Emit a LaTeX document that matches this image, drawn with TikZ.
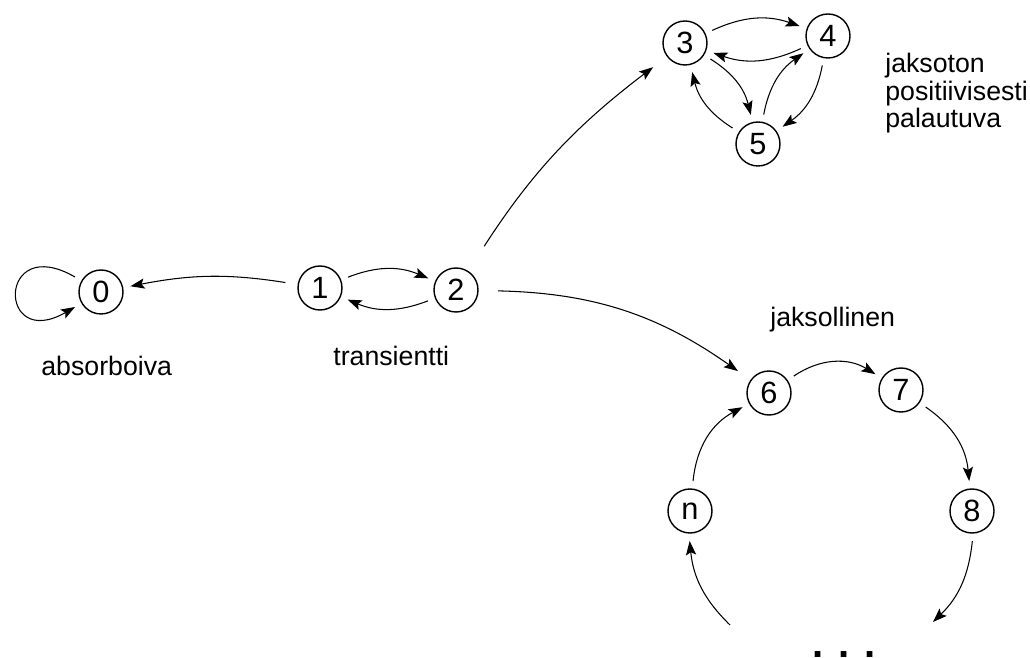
\documentclass[tikz,border=0pt]{standalone}
\usepackage{fontspec}
\setmainfont{Liberation Sans}
\usetikzlibrary{arrows.meta}

\tikzset{
    state/.style={circle, draw, line width=0.8pt, minimum size=0.88cm, inner sep=0pt, outer sep=0.16cm, font=\fontsize{17.5}{20}\selectfont},
    arr/.style={-{Stealth[length=8pt,width=5.8pt,inset=1.6pt]}, line width=0.6pt},
    lbl/.style={anchor=base west, inner sep=0pt, font=\fontsize{15.2}{15.7}\selectfont}
}

\begin{document}
\begin{tikzpicture}
    \useasboundingbox (0,0) rectangle (20.6,13.16);

    \node[state] (n0) at (2.02,7.32) {0};
    \node[state] (n1) at (6.40,7.40) {1};
    \node[state] (n2) at (9.12,7.36) {2};
    \node[state] (n3) at (13.70,12.30) {3};
    \node[state] (n4) at (16.56,12.44) {4};
    \node[state] (n5) at (15.16,10.28) {5};
    \node[state] (n6) at (15.38,5.30) {6};
    \node[state] (n7) at (18.02,5.36) {7};
    \node[state] (n8) at (19.44,2.94) {8};
    \node[state] (nn) at (13.80,2.94) {n};

    \coordinate (c8) at (18.66,0.72);
    \coordinate (cn) at (14.60,0.66);
    \node[anchor=base, inner sep=0pt, font=\fontsize{22.8}{24}\selectfont\bfseries] (dots) at (16.88,0.01) {. . .};

    \node[lbl] (absorb) at (0.82,5.64) {absorboiva};
    \node[lbl] (trans) at (6.66,5.84) {transientti};
    \node[lbl, align=left] (aper) at (17.70,10.60) {jaksoton\\positiivisesti\\palautuva};
    \node[lbl] (period) at (15.40,6.62) {jaksollinen};

    % absorboiva ja transientti
    \draw[arr] (n0) to[out=150,in=210,min distance=1.8cm] (n0);
    \draw[arr, shorten <=0.1cm] (n1) to[bend right=10] (n0);
    \draw[arr] (n1) to[bend left=22] (n2);
    \draw[arr] (n2) to[bend left=22] (n1);
    \draw[arr, shorten <=0.44cm, shorten >=0.2cm] (n2) to[bend left=10] (n3);
    \draw[arr, shorten <=0.24cm, shorten >=0.16cm] (n2) to[bend left=17] (n6);

    % jaksoton luokka
    \draw[arr] (n3) to[bend left=22] (n4);
    \draw[arr] (n4) to[bend left=22] (n3);
    \draw[arr] (n3) to[bend left=22] (n5);
    \draw[arr] (n5) to[bend left=22] (n3);
    \draw[arr] (n5) to[bend left=22] (n4);
    \draw[arr] (n4) to[bend left=22] (n5);

    % jaksollinen luokka
    \draw[arr] (n6) to[bend left=33] (n7);
    \draw[arr] (n7) to[bend left=25] (n8);
    \draw[arr] (n8) to[bend left=20] (c8);
    \draw[arr] (cn) to[bend left=20] (nn);
    \draw[arr] (nn) to[bend left=28] (n6);
\end{tikzpicture}
\end{document}
